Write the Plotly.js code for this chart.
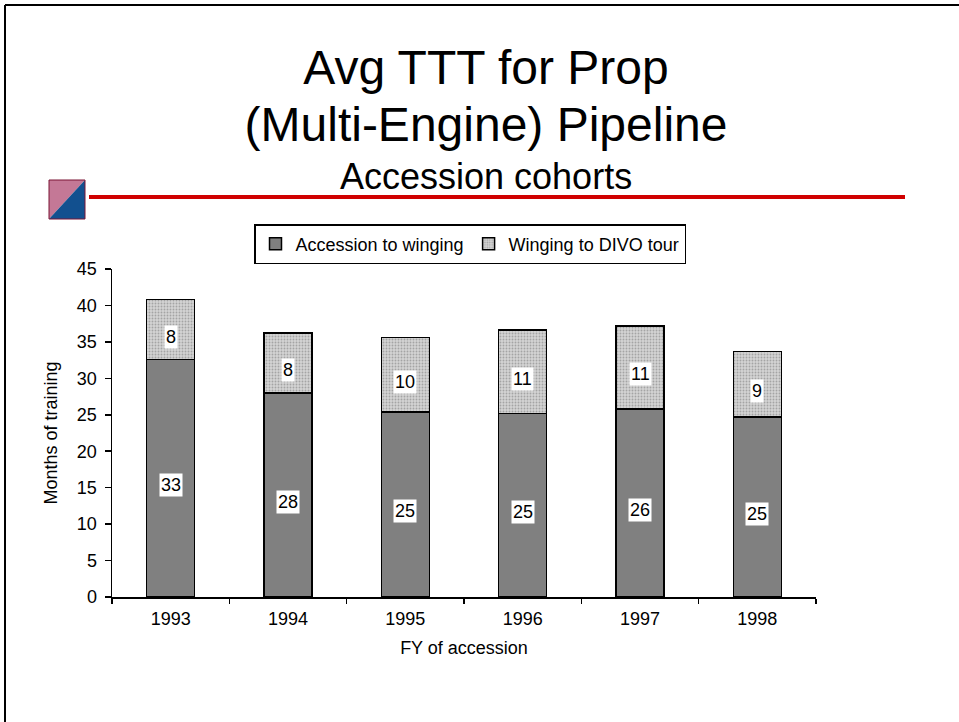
<!DOCTYPE html>
<html>
<head>
<meta charset="utf-8">
<script src="https://cdn.plot.ly/plotly-3.0.1.min.js"></script>
<style>
  html, body { margin: 0; padding: 0; background: #fff; }
  #chart { width: 959px; height: 722px; }
</style>
</head>
<body>
<div id="chart"></div>
<script>
// ---- Data ----
const categories = ['1993', '1994', '1995', '1996', '1997', '1998'];
const accessionToWinging = [32.6, 28.0, 25.4, 25.2, 25.8, 24.7];
const wingingToDivo = [8.2, 8.2, 10.2, 11.4, 11.4, 9.0];
const seriesNames = ['Accession to winging', 'Winging to DIVO tour'];

// ---- Layout geometry (pixels) ----
const W = 959, H = 722;
const L = 112, R = 816, T = 269, B = 597;
const PW = R - L, PH = B - T;
const px = v => (v - L) / PW;
const py = v => (B - v) / PH;

const FONT = '"Liberation Sans", Arial, sans-serif';
const SMALL = 18;

const traces = [
  {
    type: 'bar', name: seriesNames[0], x: categories, y: accessionToWinging,
    marker: { color: '#808080', line: { color: '#000', width: 1.5 } },
    hoverinfo: 'skip'
  },
  {
    type: 'bar', name: seriesNames[1], x: categories, y: wingingToDivo,
    marker: {
      color: '#d0d0d0',
      line: { color: '#000', width: 1.5 },
      pattern: { shape: '.', fgcolor: '#a4a4a4', bgcolor: '#d4d4d4', size: 3, solidity: 0.3 }
    },
    hoverinfo: 'skip'
  }
];

// value labels with white boxes, positioned through data coordinates
const annotations = [];
categories.forEach((c, i) => {
  const a = accessionToWinging[i], d = wingingToDivo[i];
  annotations.push({
    x: i, y: a / 2, xref: 'x', yref: 'y', text: String(Math.round(a)),
    showarrow: false, bgcolor: '#fff', borderpad: 1, yshift: -7,
    font: { family: FONT, size: SMALL, color: '#000' }
  });
  annotations.push({
    x: i, y: a + d / 2, xref: 'x', yref: 'y', text: String(Math.round(d)),
    showarrow: false, bgcolor: '#fff', borderpad: 1, yshift: -7,
    font: { family: FONT, size: SMALL, color: '#000' }
  });
});

// subtitle
annotations.push({
  xref: 'paper', yref: 'paper', x: px(486), y: py(176), xanchor: 'center', yanchor: 'middle',
  text: 'Accession cohorts', showarrow: false,
  font: { family: FONT, size: 36, color: '#000' }
});

const shapes = [
  // page frame (top and left)
  { type: 'line', xref: 'paper', yref: 'paper', x0: px(5), x1: px(960), y0: py(5), y1: py(5),
    line: { color: '#000', width: 2 } },
  { type: 'line', xref: 'paper', yref: 'paper', x0: px(5), x1: px(5), y0: py(5), y1: py(723),
    line: { color: '#000', width: 2 } },
  // red rule
  { type: 'line', xref: 'paper', yref: 'paper', x0: px(89), x1: px(905), y0: py(197), y1: py(197),
    line: { color: '#d00000', width: 4 } },
  // icon: upper-left triangle
  { type: 'path', xref: 'paper', yref: 'paper',
    path: `M ${px(49)},${py(180)} L ${px(85)},${py(180)} L ${px(49)},${py(219)} Z`,
    fillcolor: '#c47896', line: { width: 0 } },
  // icon: lower-right triangle
  { type: 'path', xref: 'paper', yref: 'paper',
    path: `M ${px(85)},${py(180)} L ${px(85)},${py(219)} L ${px(49)},${py(219)} Z`,
    fillcolor: '#12508f', line: { width: 0 } },
  { type: 'rect', xref: 'paper', yref: 'paper', x0: px(49), x1: px(85), y0: py(219), y1: py(180),
    line: { color: '#7a1535', width: 1 } }
];

const layout = {
  width: W, height: H,
  margin: { l: L, r: W - R, t: T, b: H - B, pad: 0 },
  paper_bgcolor: '#fff', plot_bgcolor: '#fff',
  font: { family: FONT, size: SMALL, color: '#000' },
  barmode: 'stack',
  bargap: 0.59,
  showlegend: true,
  title: {
    text: '<span style="font-size:48px">Avg TTT for Prop</span><br><span style="font-size:48px">(Multi-Engine) Pipeline</span>',
    font: { family: FONT, size: 44, color: '#000' },
    xref: 'container', yref: 'container',
    x: 486 / W, xanchor: 'center',
    y: 1 - 84 / H, yanchor: 'top'
  },
  legend: {
    orientation: 'h',
    x: px(470), xanchor: 'center',
    y: py(224), yanchor: 'top',
    bordercolor: '#000', borderwidth: 1.5, bgcolor: '#fff',
    font: { family: FONT, size: SMALL, color: '#000' },
    traceorder: 'normal'
  },
  xaxis: {
    type: 'category', range: [-0.5, 5.5],
    tickson: 'boundaries', ticks: 'outside', ticklen: 5, tickwidth: 1.5, tickcolor: '#000',
    showline: true, linecolor: '#000', linewidth: 1.5,
    showgrid: false, zeroline: false,
    tickfont: { family: FONT, size: SMALL, color: '#000' },
    ticklabelstandoff: 5,
    title: { text: 'FY of accession', font: { family: FONT, size: SMALL, color: '#000' }, standoff: 13 }
  },
  yaxis: {
    range: [0, 45], dtick: 5, tick0: 0,
    ticks: 'outside', ticklen: 6, tickwidth: 1.5, tickcolor: '#000',
    showline: true, linecolor: '#000', linewidth: 1.5,
    showgrid: false, zeroline: false,
    tickfont: { family: FONT, size: SMALL, color: '#000' },
    ticklabelstandoff: 4,
    title: { text: 'Months of training', font: { family: FONT, size: SMALL, color: '#000' }, standoff: 14 }
  },
  annotations: annotations,
  shapes: shapes
};

Plotly.newPlot('chart', traces, layout, { displayModeBar: false, staticPlot: true });
</script>
</body>
</html>
